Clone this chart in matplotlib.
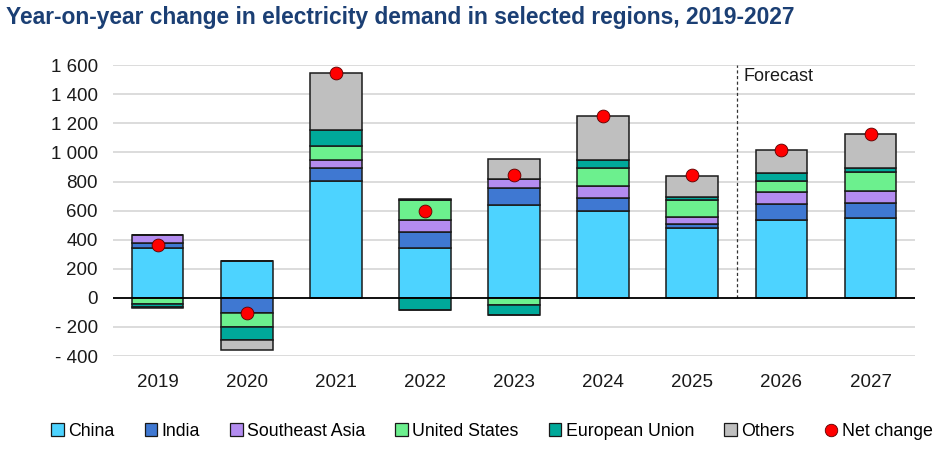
import numpy as np
import matplotlib.pyplot as plt
from matplotlib.patches import Patch
from matplotlib.lines import Line2D

plt.rcParams['font.family'] = ['Liberation Sans', 'DejaVu Sans']

# Data (TWh)
years = ['2019', '2020', '2021', '2022', '2023', '2024', '2025', '2026', '2027']
china = [345, 252, 802, 345, 638, 597, 483, 534, 550]
india = [32, -103, 94, 106, 115, 89, 23, 110, 101]
sea = [57, 0, 55, 84, 64, 85, 52, 85, 82]
us = [-40, -94, 94, 138, -48, 121, 115, 75, 131]
eu = [-23, -96, 112, -82, -69, 55, 20, 58, 32]
others = [-8, -62, 390, 4, 137, 302, 147, 158, 229]
net = [362, -103, 1547, 595, 842, 1249, 842, 1020, 1125]

series = [
    ('China', china, '#4DD3FF'),
    ('India', india, '#3F78D2'),
    ('Southeast Asia', sea, '#B38CF0'),
    ('United States', us, '#6CF08E'),
    ('European Union', eu, '#00A99A'),
    ('Others', others, '#BFBFBF'),
]

fig = plt.figure(figsize=(9.37, 4.53), dpi=100)
ax = fig.add_axes([0.1206, 0.214, 0.856, 0.642])

x = np.arange(len(years))
w = 0.58
pos_base = np.zeros(len(years))
neg_base = np.zeros(len(years))
for name, vals, col in series:
    v = np.array(vals, dtype=float)
    p = np.where(v > 0, v, 0)
    n = np.where(v < 0, v, 0)
    ax.bar(x, p, w, bottom=pos_base, color=col, edgecolor='#1a1a1a', linewidth=1.1, zorder=3)
    ax.bar(x, n, w, bottom=neg_base, color=col, edgecolor='#1a1a1a', linewidth=1.1, zorder=3)
    pos_base += p
    neg_base += n

ax.scatter(x, net, s=85, color='#FF0000', edgecolor='#5a0000', linewidth=0.6, zorder=5)

ax.axhline(0, color='black', linewidth=1.3, zorder=4)
ax.set_xlim(-0.5, len(years) - 0.5)
ax.set_ylim(-400, 1600)
ax.set_yticks(np.arange(-400, 1601, 200))
ax.set_yticklabels([f"{v:,}".replace(',', ' ').replace('-', '- ') for v in range(-400, 1601, 200)])
ax.set_xticks(x)
ax.set_xticklabels(years)
ax.tick_params(axis='both', length=0, labelsize=13.5, colors='#1a1a1a')
ax.tick_params(axis='x', pad=13)
ax.tick_params(axis='y', pad=11)
ax.yaxis.grid(True, color='#D9D9D9', linewidth=1.3, zorder=0)
ax.set_axisbelow(True)
for s in ax.spines.values():
    s.set_visible(False)

# forecast divider
ax.plot([6.5, 6.5], [0, 1600], color='#333333', linestyle=(0, (2.5, 2)), linewidth=0.9, zorder=2)
ax.text(6.57, 1520, 'Forecast', fontsize=13, va='center', ha='left', color='#1a1a1a')

fig.text(0.006, 0.962, 'Year-on-year change in electricity demand in selected regions, 2019-2027',
         fontsize=16.4, fontweight='bold', color='#1B3F74', va='center', ha='left')

handles = [Patch(facecolor=c, edgecolor='#1a1a1a', linewidth=0.9, label=n) for n, _, c in series]
handles.append(Line2D([], [], marker='o', linestyle='', markersize=9, markerfacecolor='#FF0000',
                      markeredgecolor='#5a0000', markeredgewidth=0.6, label='Net change'))
fig.legend(handles=handles, loc='center', bbox_to_anchor=(0.525, 0.048), ncol=7, frameon=False,
           fontsize=12.8, handlelength=0.7, handleheight=0.7, handletextpad=0.25, columnspacing=1.7)

fig.savefig('out.png', dpi=100)
